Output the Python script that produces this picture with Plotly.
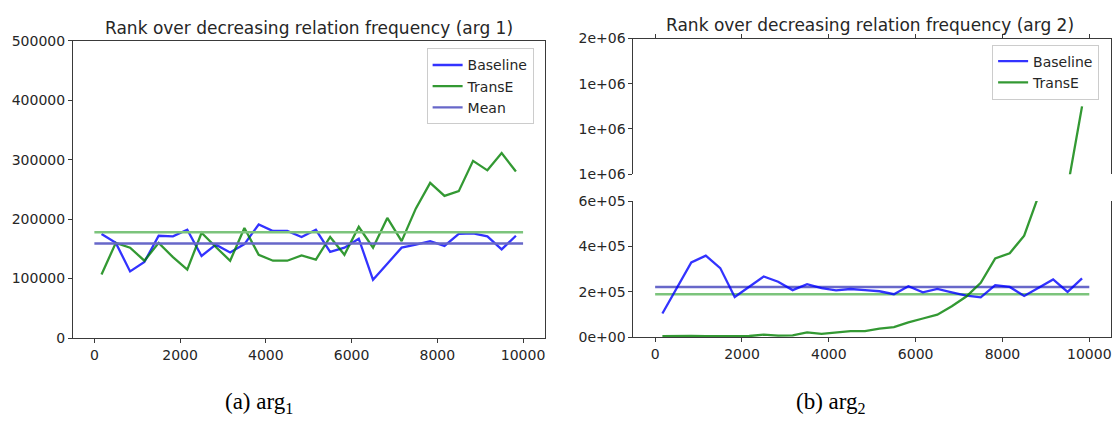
import plotly.graph_objects as go

# Bin centres of relation-frequency rank buckets
bins = [167, 500, 833, 1167, 1500, 1833, 2167, 2500, 2833, 3167,
        3500, 3833, 4167, 4500, 4833, 5167, 5500, 5833, 6167, 6500,
        6833, 7167, 7500, 7833, 8167, 8500, 8833, 9167, 9500, 9833]

# arg 1 ranks
arg1_baseline = [175000, 160000, 112000, 128000, 172000, 171000, 182000, 138000, 157000, 144000,
                 158000, 191000, 180000, 180000, 170000, 182000, 145000, 152000, 167000, 98000,
                 125000, 152000, 157000, 163000, 155000, 175000, 176000, 171000, 149000, 172000]
arg1_transe = [107000, 160000, 152000, 130000, 160000, 136000, 115000, 177000, 153000, 130000,
               185000, 140000, 130000, 130000, 139000, 132000, 170000, 140000, 187000, 152000,
               202000, 163000, 218000, 261000, 239000, 247000, 298000, 282000, 311000, 280000]
arg1_mean_baseline = 159000
arg1_mean_transe = 178000

# arg 2 ranks
arg2_baseline = [105000, 220000, 330000, 360000, 305000, 178000, 222000, 268000, 245000, 208000,
                 234000, 217000, 207000, 213000, 208000, 203000, 190000, 225000, 198000, 213000,
                 198000, 184000, 176000, 230000, 222000, 182000, 218000, 255000, 200000, 260000]
arg2_transe = [5000, 7000, 6000, 5000, 5000, 6000, 6000, 12000, 8000, 9000,
               22000, 15000, 21000, 27000, 27000, 38000, 45000, 66000, 83000, 100000,
               137000, 180000, 240000, 348000, 370000, 448000, 625000, 760000, 940000, 1300000]
arg2_mean_baseline = 222000
arg2_mean_transe = 190000

mean_span = [0, 10000]

titles = ["Rank over decreasing relation frequency (arg 1)",
          "Rank over decreasing relation frequency (arg 2)"]
captions = ["(a) arg<sub>1</sub>", "(b) arg<sub>2</sub>"]

x_ticks = [0, 2000, 4000, 6000, 8000, 10000]
x_tick_text = ["0", "2000", "4000", "6000", "8000", "10000"]
y1_ticks = [0, 100000, 200000, 300000, 400000, 500000]
y1_tick_text = ["0", "100000", "200000", "300000", "400000", "500000"]
y_upper_ticks = [1000000, 1200000, 1400000, 1600000]
y_upper_text = ["1e+06", "1e+06", "1e+06", "2e+06"]
y_lower_ticks = [0, 200000, 400000, 600000]
y_lower_text = ["0e+00", "2e+05", "4e+05", "6e+05"]

W, H = 1113, 423
C_BASE = "rgba(0,0,255,0.8)"
C_TRANSE = "rgba(0,128,0,0.8)"
C_MEAN_B = "#6767c9"
C_MEAN_T = "#7cc47c"
FONT = "DejaVu Sans"
AX_COLOR = "#3a3a3a"
LW = 2.3
LW_MEAN = 2.4


def px_x(p):
    return p / W


def px_y(p):
    return 1 - p / H


fig = go.Figure()

# ---- left panel: arg 1 ----
fig.add_trace(go.Scatter(x=bins, y=arg1_baseline, mode="lines", name="Baseline",
                         line=dict(color=C_BASE, width=LW), xaxis="x", yaxis="y", legend="legend"))
fig.add_trace(go.Scatter(x=bins, y=arg1_transe, mode="lines", name="TransE",
                         line=dict(color=C_TRANSE, width=LW), xaxis="x", yaxis="y", legend="legend"))
fig.add_trace(go.Scatter(x=mean_span, y=[arg1_mean_baseline] * 2, mode="lines", name="Mean",
                         line=dict(color=C_MEAN_B, width=LW_MEAN), xaxis="x", yaxis="y", legend="legend"))
fig.add_trace(go.Scatter(x=mean_span, y=[arg1_mean_transe] * 2, mode="lines", showlegend=False,
                         line=dict(color=C_MEAN_T, width=LW_MEAN), xaxis="x", yaxis="y"))

# ---- right panel: arg 2, broken y axis (upper part x2/y2, lower part x3/y3) ----
for xa, ya, show in (("x3", "y3", True), ("x2", "y2", False)):
    fig.add_trace(go.Scatter(x=mean_span, y=[arg2_mean_baseline] * 2, mode="lines", showlegend=False,
                             line=dict(color=C_MEAN_B, width=LW_MEAN), xaxis=xa, yaxis=ya))
    fig.add_trace(go.Scatter(x=mean_span, y=[arg2_mean_transe] * 2, mode="lines", showlegend=False,
                             line=dict(color=C_MEAN_T, width=LW_MEAN), xaxis=xa, yaxis=ya))
    fig.add_trace(go.Scatter(x=bins, y=arg2_baseline, mode="lines", name="Baseline", showlegend=show,
                             line=dict(color=C_BASE, width=LW), xaxis=xa, yaxis=ya, legend="legend2"))
    fig.add_trace(go.Scatter(x=bins, y=arg2_transe, mode="lines", name="TransE", showlegend=show,
                             line=dict(color=C_TRANSE, width=LW), xaxis=xa, yaxis=ya, legend="legend2"))

axis_common = dict(showgrid=False, zeroline=False, showline=True, linecolor=AX_COLOR, linewidth=1,
                   ticks="outside", ticklen=4, tickcolor=AX_COLOR, tickwidth=1,
                   tickfont=dict(family=FONT, size=14, color="#262626"))

left_dom = [px_x(73), px_x(545)]
right_dom = [px_x(634), px_x(1112)]

fig.update_layout(
    width=W, height=H,
    margin=dict(l=0, r=0, t=0, b=0),
    paper_bgcolor="white", plot_bgcolor="white",
    font=dict(family=FONT, size=14, color="#262626"),
    xaxis=dict(domain=left_dom, range=[-500, 10500], tickvals=x_ticks, ticktext=x_tick_text,
               mirror=True, anchor="y", **axis_common),
    yaxis=dict(domain=[px_y(343), px_y(34)], range=[0, 500000], tickvals=y1_ticks,
               ticktext=y1_tick_text, mirror=True, anchor="x", **axis_common),
    xaxis2=dict(domain=right_dom, range=[-500, 10500], tickvals=x_ticks, ticktext=x_tick_text,
                side="top", showticklabels=False, anchor="y2", **axis_common),
    yaxis2=dict(domain=[px_y(172.7), px_y(31.7)], range=[1000000, 1600000],
                tickvals=y_upper_ticks, ticktext=y_upper_text, mirror=True, anchor="x2",
                **axis_common),
    xaxis3=dict(domain=right_dom, range=[-500, 10500], tickvals=x_ticks, ticktext=x_tick_text,
                anchor="y3", **axis_common),
    yaxis3=dict(domain=[px_y(342.3), px_y(200.7)], range=[0, 600000],
                tickvals=y_lower_ticks, ticktext=y_lower_text, mirror=True, anchor="x3",
                **axis_common),
    legend=dict(x=px_x(427), y=px_y(42), xanchor="left", yanchor="top",
                bgcolor="white", bordercolor="#cccccc", borderwidth=1,
                font=dict(family=FONT, size=14, color="#262626")),
    legend2=dict(x=px_x(993), y=px_y(38), xanchor="left", yanchor="top",
                 bgcolor="white", bordercolor="#cccccc", borderwidth=1,
                 font=dict(family=FONT, size=14, color="#262626")),
    showlegend=True,
)

# panel titles
fig.add_annotation(text=titles[0], x=px_x(309), y=px_y(21), xref="paper", yref="paper",
                   xanchor="center", yanchor="middle", showarrow=False,
                   font=dict(family=FONT, size=17, color="#262626"))
fig.add_annotation(text=titles[1], x=px_x(871), y=px_y(17.5), xref="paper", yref="paper",
                   xanchor="center", yanchor="middle", showarrow=False,
                   font=dict(family=FONT, size=17, color="#262626"))

# sub-figure captions
fig.add_annotation(text=captions[0], x=px_x(259), y=px_y(411), xref="paper", yref="paper",
                   xanchor="center", yanchor="middle", showarrow=False,
                   font=dict(family="Liberation Serif", size=23, color="black"))
fig.add_annotation(text=captions[1], x=px_x(832), y=px_y(411), xref="paper", yref="paper",
                   xanchor="center", yanchor="middle", showarrow=False,
                   font=dict(family="Liberation Serif", size=23, color="black"))

fig.write_html("out.html")
